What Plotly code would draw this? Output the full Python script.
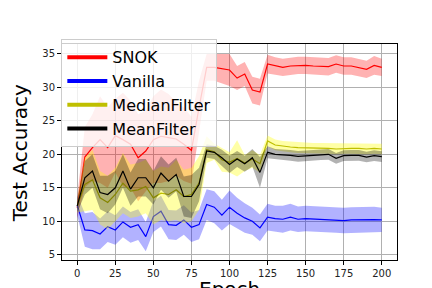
import plotly.graph_objects as go

epochs = list(range(0, 201, 5))

snok_mean = [12.0, 19.6, 21.0, 22.2, 21.0, 22.8, 22.2, 21.5, 19.5, 20.5,
             22.2, 22.7, 22.5, 22.3, 21.5, 20.6, 27.0, 33.0, 33.0, 32.8,
             32.6, 31.4, 32.0, 29.6, 29.3, 33.5, 33.2, 33.0, 33.2, 33.3,
             33.3, 33.2, 33.2, 33.1, 33.5, 33.2, 33.2, 33.0, 32.7, 33.3, 33.0]
snok_std = [1.5, 4.5, 5.0, 6.5, 6.0, 5.5, 7.0, 6.5, 6.5, 6.0,
            6.5, 7.0, 6.5, 5.5, 5.5, 5.0, 4.0, 2.0, 2.0, 2.2,
            2.4, 1.8, 1.8, 2.0, 2.0, 1.4, 1.3, 1.3, 1.3, 1.3,
            1.3, 1.3, 1.3, 1.3, 1.3, 1.3, 1.3, 1.3, 1.3, 1.4, 1.3]

vanilla_mean = [12.4, 8.7, 8.6, 8.1, 9.2, 8.7, 9.9, 9.1, 9.5, 7.7,
                10.7, 11.5, 9.5, 9.4, 10.2, 9.1, 9.5, 12.5, 12.1, 10.9,
                12.1, 11.2, 10.5, 10.0, 9.0, 10.6, 10.4, 10.3, 10.6, 10.3,
                10.4, 10.35, 10.3, 10.25, 10.2, 10.1, 10.2, 10.25, 10.2, 10.25, 10.2]
vanilla_std = [1.5, 2.5, 2.8, 2.3, 2.3, 2.2, 2.3, 2.3, 2.3, 2.2,
               2.3, 2.3, 2.2, 2.2, 2.2, 2.2, 2.2, 2.3, 2.4, 2.3,
               2.5, 2.3, 2.2, 2.0, 2.0, 2.0, 1.9, 2.0, 2.0, 1.9,
               1.9, 1.9, 1.9, 1.9, 1.9, 1.9, 1.9, 1.9, 1.9, 1.9, 1.8]

median_mean = [12.3, 15.5, 16.2, 13.5, 12.8, 14.0, 15.7, 14.5, 14.7, 15.2,
               13.5, 14.2, 14.0, 14.7, 13.7, 14.0, 15.7, 20.7, 20.4, 19.2,
               18.8, 19.4, 18.7, 19.3, 18.6, 22.0, 21.4, 21.2, 21.1, 21.0,
               21.0, 20.9, 20.9, 20.9, 20.8, 20.9, 20.9, 20.9, 20.8, 20.9, 20.8]
median_std = [1.0, 4.0, 4.5, 4.0, 4.0, 4.0, 4.5, 4.0, 4.0, 4.0,
              4.0, 4.0, 4.0, 4.5, 4.0, 4.0, 4.0, 2.0, 1.2, 1.8,
              1.5, 2.7, 1.2, 1.3, 1.3, 0.8, 0.8, 0.8, 0.8, 0.8,
              0.8, 0.8, 0.8, 0.8, 0.8, 0.8, 0.8, 0.8, 0.8, 0.8, 0.8]

mean_mean = [12.3, 16.5, 17.5, 14.3, 14.0, 15.0, 17.5, 14.8, 16.5, 16.5,
             15.0, 17.2, 16.0, 17.0, 13.7, 13.7, 15.5, 20.5, 20.3, 19.5,
             18.5, 19.3, 18.6, 19.5, 17.3, 20.3, 20.0, 19.95, 19.85, 19.7,
             19.8, 19.9, 19.95, 20.0, 19.4, 19.8, 19.85, 19.85, 19.6, 19.8, 19.65]
mean_std = [1.0, 2.5, 2.5, 2.5, 2.8, 2.5, 2.5, 2.5, 2.8, 2.8,
            2.5, 2.5, 2.5, 2.5, 3.0, 3.2, 2.5, 1.0, 1.0, 1.2,
            1.3, 1.2, 1.2, 1.3, 2.3, 0.9, 0.8, 0.8, 0.8, 0.8,
            0.8, 0.8, 0.8, 0.8, 0.8, 0.8, 0.8, 0.8, 0.8, 0.8, 0.8]

series = [
    ("SNOK", snok_mean, snok_std, "#ff0000", "rgba(255,0,0,0.3)"),
    ("Vanilla", vanilla_mean, vanilla_std, "#0000ff", "rgba(0,0,255,0.3)"),
    ("MedianFilter", median_mean, median_std, "#bfbf00", "rgba(255,255,0,0.35)"),
    ("MeanFilter", mean_mean, mean_std, "#000000", "rgba(0,0,0,0.3)"),
]

fig = go.Figure()
for name, m, s, lc, fc in series:
    upper = [a + b for a, b in zip(m, s)]
    lower = [a - b for a, b in zip(m, s)]
    fig.add_trace(go.Scatter(
        x=epochs + epochs[::-1], y=upper + lower[::-1],
        fill="toself", fillcolor=fc, line=dict(width=0),
        mode="lines", showlegend=False, hoverinfo="skip"))
    fig.add_trace(go.Scatter(
        x=epochs, y=m, mode="lines", line=dict(color=lc, width=1.2),
        showlegend=False))

for name, m, s, lc, fc in series:
    fig.add_trace(go.Scatter(
        x=[None], y=[None], mode="lines", name=name,
        line=dict(color=lc, width=4)))

axis_common = dict(
    showline=True, linecolor="black", linewidth=1, mirror=True,
    ticks="outside", ticklen=4, tickwidth=1, tickcolor="black",
    showgrid=True, gridcolor="#b0b0b0", gridwidth=1, zeroline=False,
    tickfont=dict(family="DejaVu Sans", size=10, color="#222222"),
)

fig.update_layout(
    width=432, height=288,
    margin=dict(l=54, r=43, t=36, b=36),
    paper_bgcolor="white", plot_bgcolor="white",
    font=dict(family="DejaVu Sans", color="black"),
    xaxis=dict(range=[-10, 210], tickvals=[0, 25, 50, 75, 100, 125, 150, 175, 200], **axis_common),
    yaxis=dict(range=[4.21, 36.49], tickvals=[5, 10, 15, 20, 25, 30, 35], **axis_common),
    legend=dict(
        x=-0.002, y=1.022, xanchor="left", yanchor="top",
        bgcolor="rgba(255,255,255,0.8)", bordercolor="#cccccc", borderwidth=1,
        font=dict(family="DejaVu Sans", size=16, color="black"),
        itemwidth=40, tracegroupgap=0,
    ),
    annotations=[
        dict(text="Epoch", x=0.5, y=-0.134, xref="paper", yref="paper",
             xanchor="center", yanchor="middle", showarrow=False,
             font=dict(family="DejaVu Sans", size=20, color="black")),
        dict(text="Test Accuracy", x=-0.125, y=0.495, xref="paper", yref="paper",
             xanchor="center", yanchor="middle", showarrow=False, textangle=-90,
             font=dict(family="DejaVu Sans", size=20, color="black")),
    ],
)

fig.write_html("out.html")
